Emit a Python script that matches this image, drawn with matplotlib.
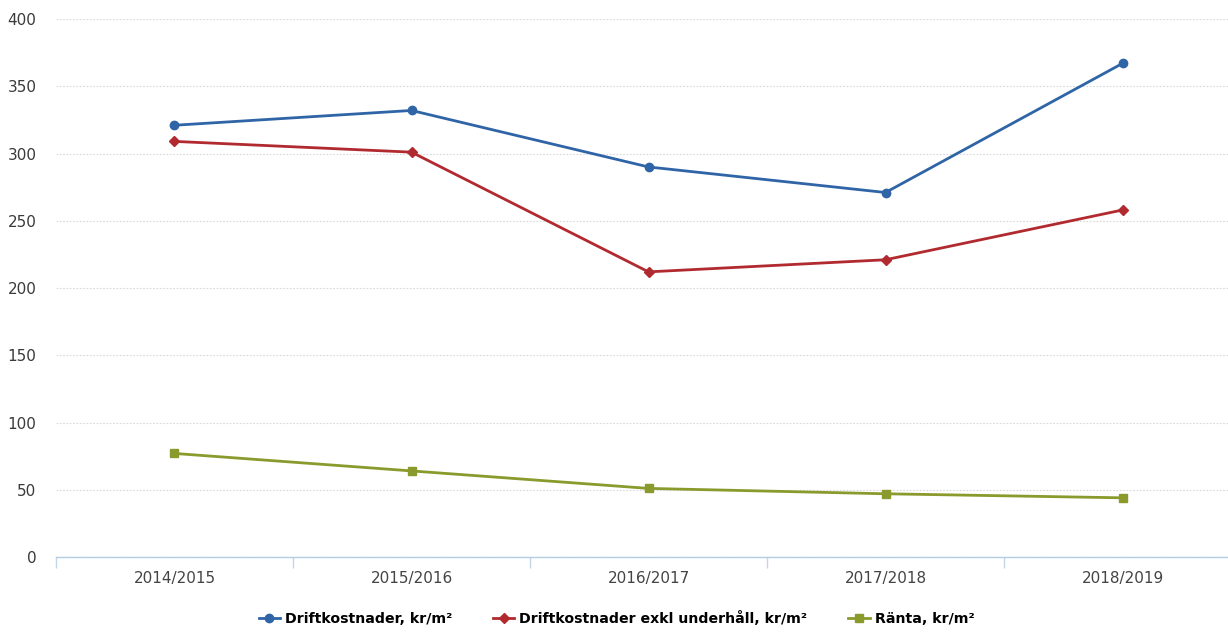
import numpy as np
import matplotlib
matplotlib.use('Agg')
import matplotlib.pyplot as plt
from matplotlib.lines import Line2D
from matplotlib import font_manager

years = ['2014/2015', '2015/2016', '2016/2017', '2017/2018', '2018/2019']
drift = [321, 332, 290, 271, 367]
drift_exkl = [309, 301, 212, 221, 258]
ranta = [77, 64, 51, 47, 44]

series = [
    (drift, 'Driftkostnader, kr/m²', '#2f65a6', 'o', 6),
    (drift_exkl, 'Driftkostnader exkl underhåll, kr/m²', '#b12a2f', 'D', 5),
    (ranta, 'Ränta, kr/m²', '#8a9a2c', 's', 6),
]

# narrow face for the legend if there is one
names = {f.name for f in font_manager.fontManager.ttflist}
leg_family = 'Liberation Sans Narrow' if 'Liberation Sans Narrow' in names else 'DejaVu Sans'

fig = plt.figure(figsize=(12.28, 6.42), dpi=100)
ax = fig.add_axes([0.0456, 0.1324, 0.9650, 0.8380])

x = np.arange(len(years))
handles = []
for vals, label, color, marker, ms in series:
    ax.plot(x, vals, color=color, lw=2.0, marker=marker, ms=ms,
            markeredgecolor=color, zorder=3)
    handles.append(Line2D([], [], color=color, lw=2.0, marker=marker, ms=ms,
                          markeredgecolor=color, label=label))

ax.set_xlim(-0.5, len(years) - 0.5)
ax.set_ylim(0, 400)
ax.set_yticks(np.arange(0, 401, 50))
ax.set_xticks(x)
ax.set_xticklabels(years)
ax.set_xticks(np.arange(-0.5, len(years), 1.0), minor=True)

ax.yaxis.grid(True, color='#d9d9d9', ls=(0, (1.5, 1.5)), lw=0.8)
for s in ['top', 'right', 'left']:
    ax.spines[s].set_visible(False)
ax.spines['bottom'].set_color('#b3cde3')
ax.spines['bottom'].set_linewidth(1.0)

ax.tick_params(axis='y', length=0, pad=14, labelsize=11, labelcolor='#3a3a3a')
ax.tick_params(axis='x', which='major', length=0, pad=10, labelsize=11,
               labelcolor='#444444')
ax.tick_params(axis='x', which='minor', length=8, color='#c3d6e8', width=1)

leg = fig.legend(handles=handles, loc='center', bbox_to_anchor=(0.502, 0.037),
                 ncol=3, frameon=False, handlelength=1.5, columnspacing=2.9,
                 handletextpad=0.35, prop={'size': 10.2, 'weight': 'bold',
                                           'family': leg_family})

fig.savefig('out.png', dpi=100)
